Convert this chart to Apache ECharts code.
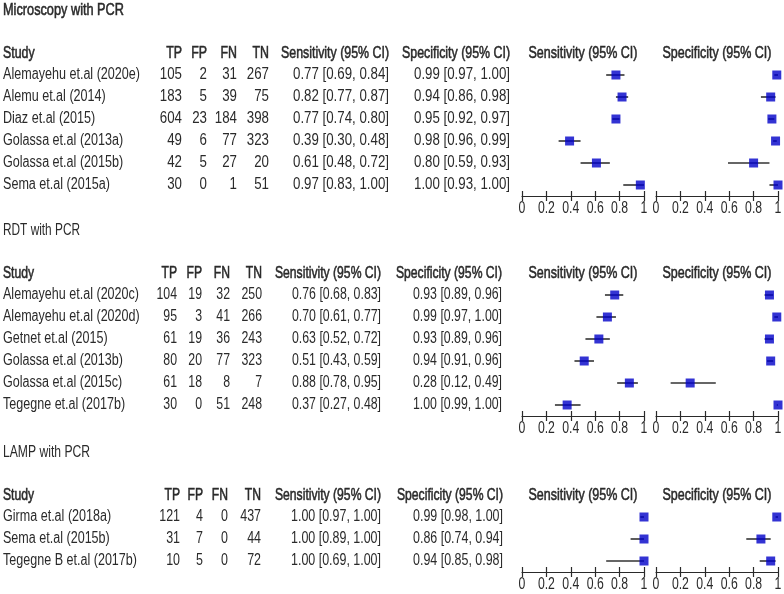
<!DOCTYPE html>
<html><head><meta charset="utf-8">
<script src="https://cdn.jsdelivr.net/npm/echarts@6/dist/echarts.min.js"></script>
<style>html,body{margin:0;padding:0;background:#fff}#c{width:784px;height:594px}</style>
</head><body><div id="c"></div>
<script>
// ---------- DATA ----------
const sectionTitles = ['Microscopy with PCR', 'RDT with PCR', 'LAMP with PCR'];
const tableHeaders = ['Study', 'TP', 'FP', 'FN', 'TN', 'Sensitivity (95% CI)', 'Specificity (95% CI)'];
const plotHeaders = ['Sensitivity (95% CI)', 'Specificity (95% CI)'];
const tickValues = [0, 0.2, 0.4, 0.6, 0.8, 1];
const tickLabels = ['0', '0.2', '0.4', '0.6', '0.8', '1'];

const microStudies = ['Alemayehu et.al (2020e)', 'Alemu et.al (2014)', 'Diaz et.al (2015)', 'Golassa et.al (2013a)', 'Golassa et.al (2015b)', 'Sema et.al (2015a)'];
const microTP = [105, 183, 604, 49, 42, 30];
const microFP = [2, 5, 23, 6, 5, 0];
const microFN = [31, 39, 184, 77, 27, 1];
const microTN = [267, 75, 398, 323, 20, 51];
const microSens = [[0.77, 0.69, 0.84], [0.82, 0.77, 0.87], [0.77, 0.74, 0.80], [0.39, 0.30, 0.48], [0.61, 0.48, 0.72], [0.97, 0.83, 1.00]];
const microSpec = [[0.99, 0.97, 1.00], [0.94, 0.86, 0.98], [0.95, 0.92, 0.97], [0.98, 0.96, 0.99], [0.80, 0.59, 0.93], [1.00, 0.93, 1.00]];

const rdtStudies = ['Alemayehu et.al (2020c)', 'Alemayehu et.al (2020d)', 'Getnet et.al (2015)', 'Golassa et.al (2013b)', 'Golassa et.al (2015c)', 'Tegegne et.al (2017b)'];
const rdtTP = [104, 95, 61, 80, 61, 30];
const rdtFP = [19, 3, 19, 20, 18, 0];
const rdtFN = [32, 41, 36, 77, 8, 51];
const rdtTN = [250, 266, 243, 323, 7, 248];
const rdtSens = [[0.76, 0.68, 0.83], [0.70, 0.61, 0.77], [0.63, 0.52, 0.72], [0.51, 0.43, 0.59], [0.88, 0.78, 0.95], [0.37, 0.27, 0.48]];
const rdtSpec = [[0.93, 0.89, 0.96], [0.99, 0.97, 1.00], [0.93, 0.89, 0.96], [0.94, 0.91, 0.96], [0.28, 0.12, 0.49], [1.00, 0.99, 1.00]];

const lampStudies = ['Girma et.al (2018a)', 'Sema et.al (2015b)', 'Tegegne B et.al (2017b)'];
const lampTP = [121, 31, 10];
const lampFP = [4, 7, 5];
const lampFN = [0, 0, 0];
const lampTN = [437, 44, 72];
const lampSens = [[1.00, 0.97, 1.00], [1.00, 0.89, 1.00], [1.00, 0.69, 1.00]];
const lampSpec = [[0.99, 0.98, 1.00], [0.86, 0.74, 0.94], [0.94, 0.85, 0.98]];

// ---------- LAYOUT / STYLE ----------
const sectionData = [
  {studies: microStudies, tp: microTP, fp: microFP, fn: microFN, tn: microTN, sens: microSens, spec: microSpec},
  {studies: rdtStudies, tp: rdtTP, fp: rdtFP, fn: rdtFN, tn: rdtTN, sens: rdtSens, spec: rdtSpec},
  {studies: lampStudies, tp: lampTP, fp: lampFP, fn: lampFN, tn: lampTN, sens: lampSens, spec: lampSpec}
];
// widths (px) that calibrate the horizontal compression of the narrow face
const layout = [
  {row0: 75, gap: 22, cols: [3, 182, 207, 237, 269, 389, 510], fs: 16,
   wStudy: 137, wNum: 96, wHead: 108, wTitle: 121, titleBold: true},
  {row0: 295, gap: 22, cols: [3, 177, 202, 230, 262, 381, 502], fs: 16,
   wStudy: 136, wNum: 89, wHead: 106, wTitle: 77, titleBold: false},
  {row0: 517, gap: 22, cols: [3, 180, 203, 228, 261, 381, 503], fs: 16,
   wStudy: 134, wNum: 90, wHead: 106, wTitle: 87, titleBold: false}
];
const sensGrid = {left: 522, width: 122};
const specGrid = {left: 656, width: 122};
const TITLE_ROW = -2.95, HEADER_ROW = -0.98, TOP_ROW = -3;
const TEXT = '#2a2a2a';
const BLUE = '#0000c8';
const FONT_FAMILY = '"Liberation Sans", Arial, sans-serif';
const PLOT_HEAD_W = 109, TICK_W = 17, TICK_DY = 12.5;

const ctx = document.createElement('canvas').getContext('2d');
function measure(text, fs, bold) {
  ctx.font = (bold ? 'bold ' : '') + fs + 'px ' + FONT_FAMILY;
  return ctx.measureText(text).width;
}
function sxFor(sample, target, fs, bold) { return target / measure(sample, fs, bold); }

const grids = [], xAxes = [], yAxes = [], series = [];
const fmt = v => v.toFixed(2);
const ciText = c => fmt(c[0]) + ' [' + fmt(c[1]) + ', ' + fmt(c[2]) + ']';
const meta = [];

sectionData.forEach((sd, s) => {
  const L = layout[s];
  const n = sd.studies.length;
  const top = L.row0 + TOP_ROW * L.gap;
  const height = (n - 0.5 - TOP_ROW) * L.gap;
  const yMax = n - 0.5;
  const baseG = grids.length;

  grids.push({left: 0, top: top, width: 784, height: height});
  grids.push({left: sensGrid.left, top: top, width: sensGrid.width, height: height});
  grids.push({left: specGrid.left, top: top, width: specGrid.width, height: height});

  const yBase = yAxes.length;
  for (let g = 0; g < 3; g++) {
    yAxes.push({gridIndex: baseG + g, type: 'value', min: TOP_ROW, max: yMax, inverse: true, show: false});
  }
  xAxes.push({gridIndex: baseG, type: 'value', min: 0, max: 784, show: false});

  const plotX = [];
  [1, 2].forEach(g => {
    plotX.push(xAxes.length);
    xAxes.push({
      gridIndex: baseG + g, type: 'value', min: 0, max: 1, interval: 0.2, position: 'bottom',
      axisLine: {show: true, onZero: false, lineStyle: {color: TEXT, width: 1.2}},
      axisTick: {show: true, length: 5, lineStyle: {color: TEXT, width: 1.2}},
      axisLabel: {show: false}, splitLine: {show: false}
    });
    xAxes.push({
      gridIndex: baseG + g, type: 'value', min: 0, max: 1, interval: 0.2, position: 'bottom', offset: 0,
      axisLine: {show: false, onZero: false},
      axisTick: {show: true, inside: true, length: 5, lineStyle: {color: TEXT, width: 1.2}},
      axisLabel: {show: false}, splitLine: {show: false}
    });
  });

  [sd.sens, sd.spec].forEach((vals, k) => {
    const xi = plotX[k], yi = yBase + 1 + k;
    series.push({
      type: 'custom', xAxisIndex: xi, yAxisIndex: yi, silent: true, z: 3,
      data: vals.map((c, i) => [c[1], c[2], i]),
      encode: {x: [0, 1], y: 2},
      renderItem: (params, api) => {
        const a = api.coord([api.value(0), api.value(2)]);
        const b = api.coord([api.value(1), api.value(2)]);
        return {type: 'line', shape: {x1: a[0], y1: a[1], x2: b[0], y2: b[1]},
          style: {stroke: '#333', lineWidth: 1.6}};
      }
    });
    series.push({
      type: 'scatter', xAxisIndex: xi, yAxisIndex: yi, symbol: 'rect', symbolSize: 9, silent: true, clip: false, z: 4,
      itemStyle: {color: BLUE},
      data: vals.map((c, i) => [c[0], i])
    });
  });
  meta.push({tableGrid: baseG, sensG: baseG + 1, specG: baseG + 2, yMax: yMax});
});

const chart = echarts.init(document.getElementById('c'), null, {renderer: 'canvas'});
chart.setOption({
  animation: false,
  backgroundColor: '#fff',
  grid: grids, xAxis: xAxes, yAxis: yAxes, series: series
});

// ---------- text, placed through the grids' axes ----------
const graphics = [];
function addText(text, pt, align, fs, sx, bold) {
  graphics.push({
    type: 'text', x: pt[0], y: pt[1], scaleX: sx, silent: true, z: 10,
    style: {text: text, fill: TEXT, font: fs + 'px ' + FONT_FAMILY, align: align, verticalAlign: 'middle',
      stroke: bold ? TEXT : null, lineWidth: bold ? 0.55 : 0}
  });
}
sectionData.forEach((sd, s) => {
  const L = layout[s], M = meta[s];
  const fs = L.fs;
  const sxStudy = sxFor(sd.studies.reduce((a, b) => b.length > a.length ? b : a, ''), L.wStudy, fs);
  const sxNum = sxFor(ciText(sd.sens[0]), L.wNum, fs);
  const sxHead = sxFor('Sensitivity (95% CI)', L.wHead, fs);
  const sxTitle = sxFor(sectionTitles[s], L.wTitle, fs, false);
  const px = (g, v) => chart.convertToPixel({gridIndex: g}, v);

  addText(sectionTitles[s], px(M.tableGrid, [L.cols[0], TITLE_ROW]), 'left', fs, sxTitle, L.titleBold);
  const colVals = [
    sd.studies, sd.tp.map(String), sd.fp.map(String), sd.fn.map(String), sd.tn.map(String),
    sd.sens.map(ciText), sd.spec.map(ciText)
  ];
  colVals.forEach((vals, ci) => {
    const align = ci === 0 ? 'left' : 'right';
    addText(tableHeaders[ci], px(M.tableGrid, [L.cols[ci], HEADER_ROW]), align, fs, sxHead, true);
    vals.forEach((t, i) => {
      addText(t, px(M.tableGrid, [L.cols[ci], i]), align, fs, ci === 0 ? sxStudy : sxNum, false);
    });
  });
  const sxPlotHead = sxFor('Sensitivity (95% CI)', PLOT_HEAD_W, fs);
  const sxTick = sxFor('0.2', TICK_W, fs);
  [M.sensG, M.specG].forEach((g, k) => {
    addText(plotHeaders[k], px(g, [0.5, HEADER_ROW]), 'center', fs, sxPlotHead, true);
    tickValues.forEach((v, i) => {
      const p = px(g, [v, M.yMax]);
      addText(tickLabels[i], [p[0], p[1] + TICK_DY], 'center', fs, sxTick, false);
    });
  });
});
chart.setOption({graphic: graphics});
</script>
</body></html>
